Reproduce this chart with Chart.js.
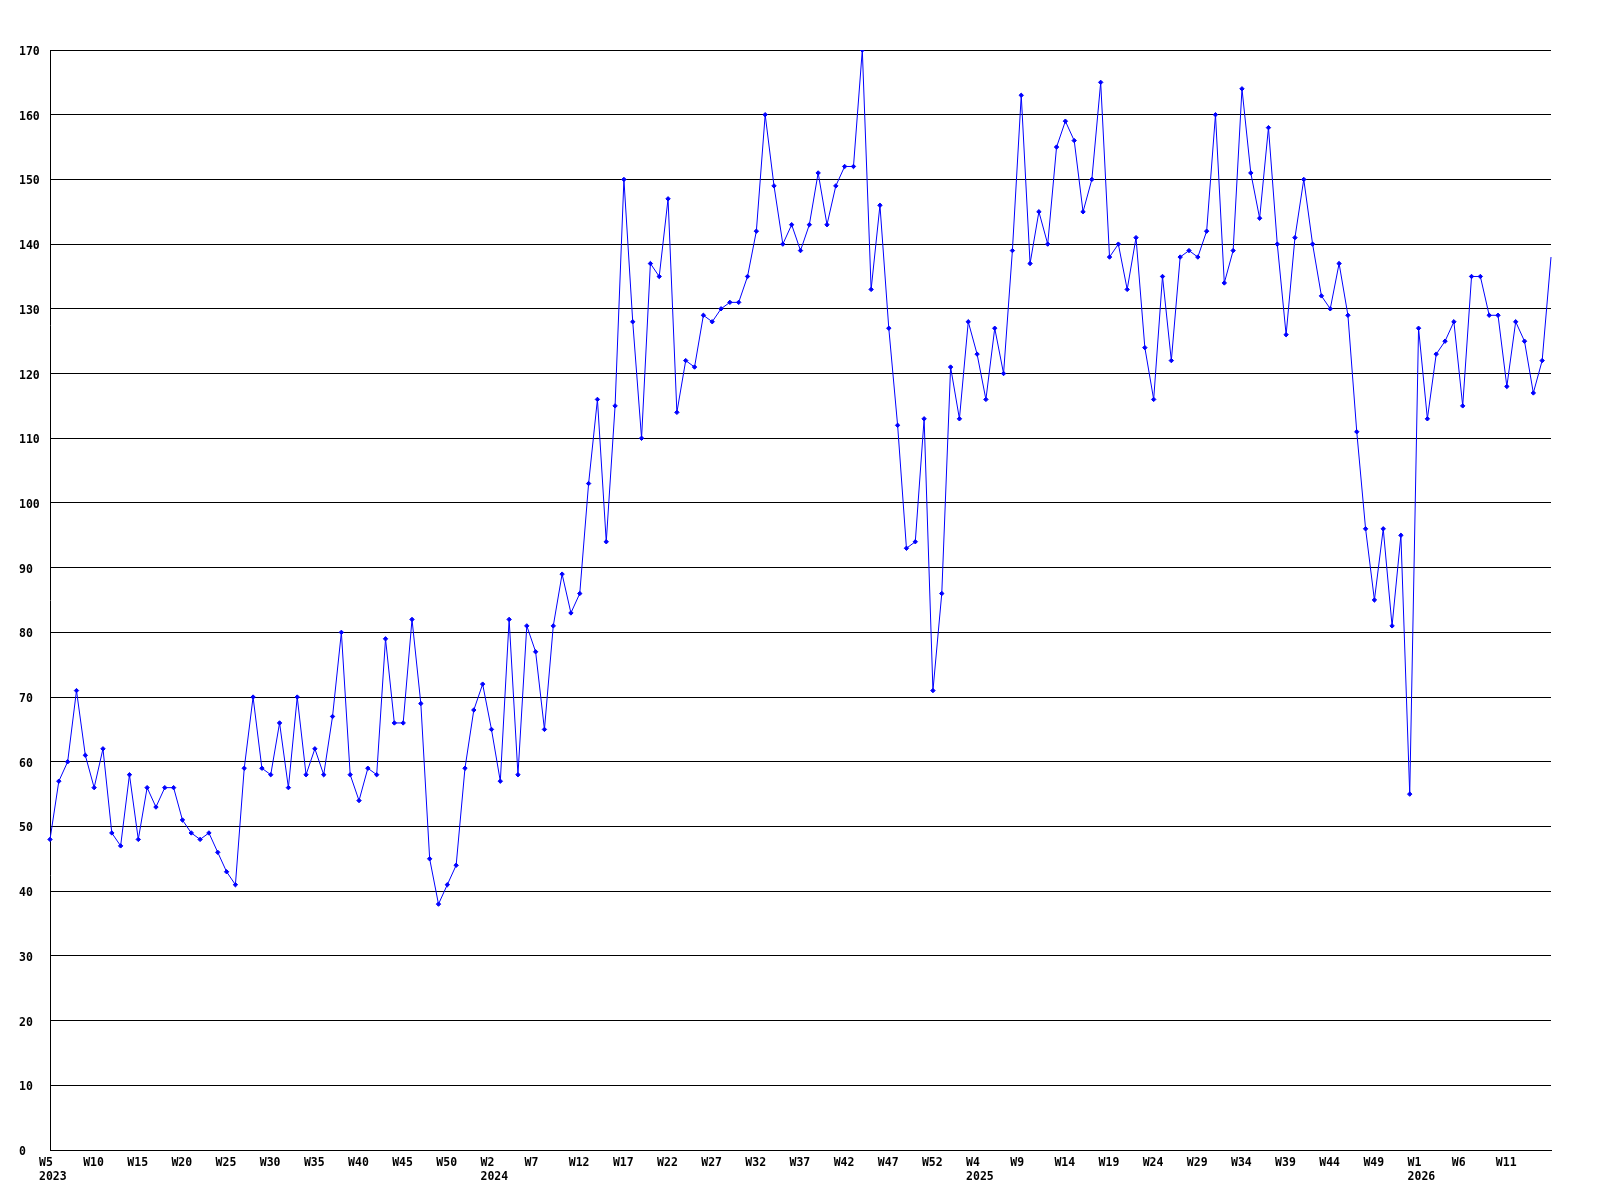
<!DOCTYPE html>
<html><head><meta charset="utf-8">
<script src="https://cdn.jsdelivr.net/npm/chart.js@4.4.1/dist/chart.umd.min.js"></script>
<style>html,body{margin:0;padding:0;background:#fff;}canvas{display:block;}</style>
</head><body>
<canvas id="c" width="1600" height="1200"></canvas>
<script>
// Week ranges per year (category axis is one point per week)
const yearSpans = [
  {year: 2023, first: 5, last: 53},
  {year: 2024, first: 1, last: 53},
  {year: 2025, first: 1, last: 53},
  {year: 2026, first: 1, last: 16}
];
const values2023 = [48,57,60,71,61,56,62,49,47,58,48,56,53,56,56,51,49,48,49,46,43,41,59,70,59,58,66,56,70,58,62,58,67,80,58,54,59,58,79,66,66,82,69,45,38,41,44,59,68];
const values2024 = [72,65,57,82,58,81,77,65,81,89,83,86,103,116,94,115,150,128,110,137,135,147,114,122,121,129,128,130,131,131,135,142,160,149,140,143,139,143,151,143,149,152,152,170,133,146,127,112,93,94,113,71,86];
const values2025 = [121,113,128,123,116,127,120,139,163,137,145,140,155,159,156,145,150,165,138,140,133,141,124,116,135,122,138,139,138,142,160,134,139,164,151,144,158,140,126,141,150,140,132,130,137,129,111,96,85,96,81,95,55];
const values2026 = [127,113,123,125,128,115,135,135,129,129,118,128,125,117,122,138];
const yMin = 0, yMax = 170, yStep = 10;
const labelEvery = 5;

const categories = [];
const categoryYears = [];
yearSpans.forEach(s => {
  for (let w = s.first; w <= s.last; w++) { categories.push('W' + w); categoryYears.push(s.year); }
});
const values = [].concat(values2023, values2024, values2025, values2026);

const tickFont = {family: "'DejaVu Sans Mono', monospace", weight: 'bold', size: 11.5, lineHeight: '14px'};

new Chart(document.getElementById('c'), {
  type: 'line',
  data: {
    labels: categories,
    datasets: [{
      data: values,
      borderColor: '#0000ff',
      backgroundColor: '#0000ff',
      borderWidth: 1,
      tension: 0,
      fill: false,
      pointStyle: 'rectRot',
      pointRadius: ctx => ctx.dataIndex === values.length - 1 ? 0 : 2.2,
      pointBorderWidth: 1,
      pointBorderColor: '#0000ff',
      pointBackgroundColor: '#0000ff'
    }]
  },
  options: {
    responsive: false,
    animation: false,
    events: [],
    layout: {padding: {left: 19, right: 49, top: 50, bottom: 10}},
    plugins: {legend: {display: false}, tooltip: {enabled: false}, title: {display: false}},
    scales: {
      x: {
        type: 'category',
        offset: false,
        grid: {display: false, drawTicks: false},
        border: {display: true, color: '#000', width: 1},
        ticks: {
          autoSkip: false, maxRotation: 0, minRotation: 0,
          align: 'start', labelOffset: -11, padding: 6,
          color: '#000', font: tickFont,
          callback: function(value, index) {
            if (index % labelEvery !== 0 || index === categories.length - 1) return '';
            const lbl = categories[index];
            const firstInYear = index < labelEvery || categoryYears[index - labelEvery] !== categoryYears[index];
            return firstInYear ? [lbl, String(categoryYears[index])] : lbl;
          }
        },
        afterFit: s => { s.height = 40; }
      },
      y: {
        min: yMin, max: yMax,
        grid: {color: '#000', lineWidth: 1, drawTicks: false},
        border: {display: true, color: '#000', width: 1},
        ticks: {stepSize: yStep, crossAlign: 'far', color: '#000', font: tickFont, padding: 0, labelOffset: 2},
        afterFit: s => { s.width = 31; }
      }
    }
  }
});
</script>
</body></html>
